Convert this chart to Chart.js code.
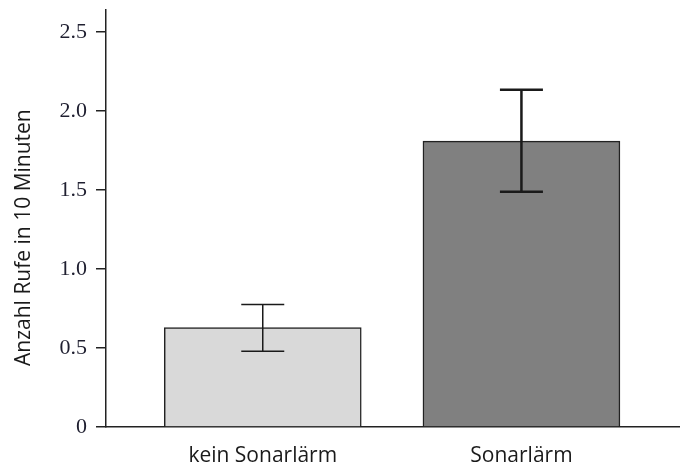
<!DOCTYPE html>
<html lang="de">
<head>
    <meta charset="UTF-8">
    <title>Anzahl Rufe in 10 Minuten</title>
    <script src="https://cdn.jsdelivr.net/npm/chart.js"></script>
    <style>
        body {
            margin: 0;
            padding: 0;
            background: #ffffff;
        }

        .chart-box {
            width: 680px;
            height: 468px;
            position: relative;
        }
    </style>
</head>
<body>
    <div class="chart-box">
        <canvas id="callChart"></canvas>
    </div>

    <script>
        // Data
        const categories = ['kein Sonarlärm', 'Sonarlärm'];
        const positions = [1, 2];
        const means = [0.63, 1.81];
        const errUpper = [0.775, 2.135];
        const errLower = [0.48, 1.49];
        const yTicks = [0, 0.5, 1.0, 1.5, 2.0, 2.5];
        const yTickLabels = ['0', '0.5', '1.0', '1.5', '2.0', '2.5'];

        // Error bars drawn with the chart's own scales
        const errorBars = {
            id: 'errorBars',
            afterDatasetsDraw(chart) {
                const { ctx, scales: { x, y } } = chart;
                const widths = [1.5, 2.5];
                ctx.save();
                ctx.strokeStyle = '#1a1a1a';
                positions.forEach((p, i) => {
                    const px = x.getPixelForValue(p);
                    const hi = y.getPixelForValue(errUpper[i]);
                    const lo = y.getPixelForValue(errLower[i]);
                    ctx.lineWidth = widths[i];
                    ctx.beginPath();
                    ctx.moveTo(px, hi);
                    ctx.lineTo(px, lo);
                    ctx.moveTo(px - 21.5, hi);
                    ctx.lineTo(px + 21.5, hi);
                    ctx.moveTo(px - 21.5, lo);
                    ctx.lineTo(px + 21.5, lo);
                    ctx.stroke();
                });
                ctx.restore();
            }
        };

        const ctx = document.getElementById('callChart').getContext('2d');
        new Chart(ctx, {
            type: 'bar',
            data: {
                datasets: [{
                    data: positions.map((p, i) => ({ x: p, y: means[i] })),
                    backgroundColor: ['#d9d9d9', '#808080'],
                    borderColor: '#222222',
                    borderWidth: 1.5,
                    barThickness: 197
                }]
            },
            options: {
                responsive: true,
                maintainAspectRatio: false,
                animation: false,
                layout: {
                    padding: { top: 10, right: 0, left: 0, bottom: 0 }
                },
                plugins: {
                    legend: { display: false },
                    tooltip: { enabled: false }
                },
                scales: {
                    x: {
                        type: 'linear',
                        offset: false,
                        min: 0.394,
                        max: 2.613,
                        afterFit: (scale) => { scale.height = 41; },
                        afterBuildTicks: (scale) => {
                            scale.ticks = positions.map(v => ({ value: v }));
                        },
                        grid: { display: false, drawTicks: false },
                        border: { display: true, color: '#222222', width: 1.5 },
                        ticks: {
                            autoSkip: false,
                            maxRotation: 0,
                            padding: 16,
                            color: '#1a1a1a',
                            font: { family: 'Open Sans', size: 21 },
                            callback: (v, i) => categories[i]
                        }
                    },
                    y: {
                        min: 0,
                        max: 2.64,
                        afterFit: (scale) => {
                            scale.width = 106;
                            scale.paddingTop = 0; // top label fits inside, no extra room
                        },
                        afterBuildTicks: (scale) => {
                            scale.ticks = yTicks.map(v => ({ value: v }));
                        },
                        grid: {
                            drawOnChartArea: false,
                            drawTicks: true,
                            tickLength: 10,
                            color: '#222222',
                            lineWidth: 1.5
                        },
                        border: { display: true, color: '#222222', width: 1.5 },
                        ticks: {
                            padding: 9,
                            color: '#1f1f30',
                            font: { family: 'Liberation Serif', size: 22 },
                            callback: (v, i) => yTickLabels[i]
                        },
                        title: {
                            display: true,
                            // trailing spaces nudge the title down a bit, like the original
                            text: 'Anzahl Rufe in 10 Minuten\u00a0\u00a0\u00a0\u00a0\u00a0\u00a0\u00a0',
                            color: '#1a1a1a',
                            font: { family: 'Open Sans', size: 21 },
                            padding: { top: 11, bottom: 0 }
                        }
                    }
                }
            },
            plugins: [errorBars]
        });
    </script>
</body>
</html>
